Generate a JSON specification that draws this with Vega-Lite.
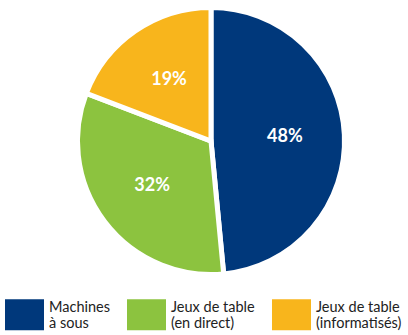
{
  "$schema": "https://vega.github.io/schema/vega-lite/v6.json",
  "autosize": "none",
  "width": 394,
  "height": 282,
  "padding": {"left": 14, "top": 0, "right": 0, "bottom": 53},
  "background": "white",
  "config": {"view": {"stroke": null}, "font": "Lato"},
  "data": {
    "values": [
      {"categorie": "Machines à sous", "part": 48, "texte": "48%", "ordre": 1},
      {"categorie": "Jeux de table (en direct)", "part": 32, "texte": "32%", "ordre": 2},
      {"categorie": "Jeux de table (informatisés)", "part": 19, "texte": "19%", "ordre": 3}
    ]
  },
  "encoding": {
    "theta": {"field": "part", "type": "quantitative", "stack": true},
    "order": {"field": "ordre", "type": "quantitative"}
  },
  "layer": [
    {
      "mark": {"type": "arc", "outerRadius": 133.5, "stroke": "white", "strokeWidth": 5},
      "encoding": {
        "color": {
          "field": "categorie",
          "type": "nominal",
          "scale": {
            "domain": ["Machines à sous", "Jeux de table (en direct)", "Jeux de table (informatisés)"],
            "range": ["#00387b", "#8cc33f", "#f8b51c"]
          },
          "legend": {
            "title": null,
            "orient": "none",
            "legendX": -9,
            "legendY": 295,
            "direction": "horizontal",
            "columns": 3,
            "columnPadding": 17,
            "symbolType": "M-1,-0.8H1V0.8H-1Z",
            "symbolSize": 1521,
            "symbolStrokeWidth": 0,
            "symbolOpacity": 1,
            "labelOffset": 5,
            "labelFont": "Lato",
            "labelFontSize": 14.5,
            "labelColor": "#222222",
            "labelBaseline": "bottom",
            "labelLimit": 200,
            "labelExpr": "datum.label == 'Machines à sous' ? ['Machines', 'à sous'] : [slice(datum.label, 0, 13), slice(datum.label, 14)]"
          }
        }
      }
    },
    {
      "mark": {"type": "text", "radius": 74, "fill": "white", "font": "Lato", "fontSize": 18, "fontWeight": "bold"},
      "encoding": {
        "text": {"field": "texte", "type": "nominal"}
      }
    }
  ]
}
